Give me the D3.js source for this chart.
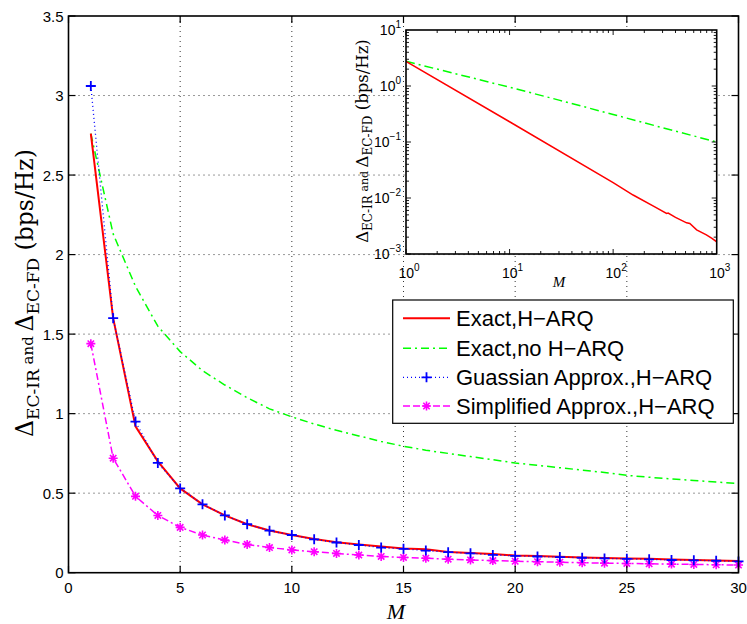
<!DOCTYPE html>
<html><head><meta charset="utf-8">
<script src="https://cdn.jsdelivr.net/npm/d3@7"></script>
<style>body{margin:0;background:#fff}svg{display:block}</style>
</head><body>
<script>
// ---------- data ----------
const M = [1,2,3,4,5,6,7,8,9,10,11,12,13,14,15,16,17,18,19,20,21,22,23,24,25,26,27,28,29,30];
const exactHarq = [2.76,1.60,0.92,0.70,0.53,0.43,0.36,0.305,0.265,0.237,0.212,0.192,0.178,0.165,0.152,0.148,0.130,0.124,0.117,0.108,0.105,0.101,0.096,0.093,0.090,0.087,0.083,0.080,0.077,0.073];
const exactNoHarq = [2.76,2.13,1.80,1.55,1.39,1.27,1.18,1.10,1.03,0.98,0.935,0.895,0.86,0.825,0.795,0.77,0.75,0.73,0.71,0.69,0.675,0.66,0.645,0.63,0.612,0.60,0.59,0.58,0.57,0.56];
const gaussApprox = [3.06,1.60,0.95,0.69,0.53,0.43,0.36,0.305,0.264,0.237,0.21,0.19,0.174,0.158,0.150,0.139,0.129,0.122,0.112,0.106,0.102,0.098,0.094,0.090,0.087,0.084,0.080,0.078,0.075,0.071];
const simpApprox = [1.44,0.72,0.48,0.36,0.285,0.237,0.205,0.178,0.158,0.143,0.132,0.121,0.111,0.102,0.096,0.091,0.085,0.080,0.076,0.072,0.069,0.066,0.063,0.060,0.058,0.056,0.054,0.052,0.050,0.048];
const xTicks = [0,5,10,15,20,25,30];
const yTicks = [0,0.5,1,1.5,2,2.5,3,3.5];
const yTickLabels = ["0","0.5","1","1.5","2","2.5","3","3.5"];

// inset (log-log)
const insetM1 = [1,10,100,156,250,328,340,400,512,550,640,795,900,1000];
const insetExact = [2.76,0.23,0.0188,0.0113,0.0070,0.0053,0.0054,0.0045,0.0036,0.0035,0.0027,0.0022,0.0019,0.00165];
const insetM2 = [1,10,30,100,300,1000];
const insetNoHarq = [2.76,0.95,0.56,0.31,0.18,0.10];
const insetXExp = [0,1,2,3];
const insetYExp = [-3,-2,-1,0,1];

const legendLabels = ["Exact,H\u2212ARQ","Exact,no H\u2212ARQ","Guassian Approx.,H\u2212ARQ","Simplified Approx.,H\u2212ARQ"];

// ---------- drawing ----------
const W=747,H=624;
const svg=d3.select("body").append("svg").attr("width",W).attr("height",H);
const sans="'Liberation Sans', Arial, Helvetica, sans-serif";
const serif="'DejaVu Serif','Liberation Serif',serif";
const serifI="'Liberation Serif','Times New Roman',serif";

const x=d3.scaleLinear().domain([0,30]).range([68.5,738.5]);
const y=d3.scaleLinear().domain([0,3.5]).range([572.7,16]);

// grid
const grid=svg.append("g").attr("stroke","#333").attr("stroke-width",1).attr("stroke-dasharray","1,4");
xTicks.filter(t=>t>0&&t<30).forEach(t=>grid.append("line").attr("x1",x(t)).attr("x2",x(t)).attr("y1",y(3.5)).attr("y2",y(0)));
yTicks.filter(t=>t>0&&t<3.5).forEach(t=>grid.append("line").attr("y1",y(t)).attr("y2",y(t)).attr("x1",x(0)).attr("x2",x(30)));

const line=(arr)=>d3.line().x((d,i)=>x(M[i])).y(d=>y(d))(arr);
svg.append("path").attr("d",line(exactNoHarq)).attr("fill","none").attr("stroke","#00ff00").attr("stroke-width",1.5).attr("stroke-dasharray","8,4,2,4");
svg.append("path").attr("d",line(simpApprox)).attr("fill","none").attr("stroke","#ff00ff").attr("stroke-width",1.5).attr("stroke-dasharray","7,3,2,3");
svg.append("path").attr("d",line(exactHarq)).attr("fill","none").attr("stroke","#ff0000").attr("stroke-width",2);
svg.append("path").attr("d",line(gaussApprox)).attr("fill","none").attr("stroke","#0000ff").attr("stroke-width",1.3).attr("stroke-dasharray","1,3");

const plusPath="M-5,0H5M0,-5V5";
const starPath="M-4.5,0H4.5M0,-4.5V4.5M-3.2,-3.2L3.2,3.2M-3.2,3.2L3.2,-3.2";
svg.append("g").selectAll("path").data(simpApprox).join("path")
  .attr("transform",(d,i)=>`translate(${x(M[i])},${y(d)})`).attr("d",starPath)
  .attr("stroke","#ff00ff").attr("stroke-width",1.6).attr("fill","none");
svg.append("g").selectAll("path").data(gaussApprox).join("path")
  .attr("transform",(d,i)=>`translate(${x(M[i])},${y(d)})`).attr("d",plusPath)
  .attr("stroke","#0000ff").attr("stroke-width",1.8).attr("fill","none");

// main axes box & ticks
const ax=svg.append("g").attr("stroke","#000").attr("stroke-width",1.2);
xTicks.forEach(t=>{
  ax.append("line").attr("x1",x(t)).attr("x2",x(t)).attr("y1",y(0)).attr("y2",y(0)-7);
  ax.append("line").attr("x1",x(t)).attr("x2",x(t)).attr("y1",y(3.5)).attr("y2",y(3.5)+7);
});
yTicks.forEach(t=>{
  ax.append("line").attr("y1",y(t)).attr("y2",y(t)).attr("x1",x(0)).attr("x2",x(0)+7);
  ax.append("line").attr("y1",y(t)).attr("y2",y(t)).attr("x1",x(30)).attr("x2",x(30)-7);
});
svg.append("rect").attr("x",x(0)).attr("y",y(3.5)).attr("width",x(30)-x(0)).attr("height",y(0)-y(3.5))
  .attr("fill","none").attr("stroke","#000").attr("stroke-width",1.6);

const tl=svg.append("g").style("font-family",sans).style("font-size","15px").attr("fill","#000");
xTicks.forEach(t=>tl.append("text").attr("x",x(t)).attr("y",y(0)+20).attr("text-anchor","middle").text(t));
yTicks.forEach((t,i)=>tl.append("text").attr("x",x(0)-5).attr("y",y(t)+5.5).attr("text-anchor","end").text(yTickLabels[i]));

// axis labels
svg.append("text").attr("x",396).attr("y",619).attr("text-anchor","middle")
  .style("font-family",serifI).style("font-style","italic").style("font-size","22px").text("M");

function deltaLabel(g, big, sub, small, shift){
  const t=g.append("text").attr("text-anchor","middle").style("font-family",serif).attr("fill","#000");
  t.append("tspan").style("font-size",big+"px").text("\u0394");
  t.append("tspan").style("font-size",sub+"px").attr("dy",shift).text("EC-IR");
  t.append("tspan").style("font-size",small+"px").attr("dy",-shift).text(" and ");
  t.append("tspan").style("font-size",big+"px").text("\u0394");
  t.append("tspan").style("font-size",sub+"px").attr("dy",shift).text("EC-FD");
  t.append("tspan").style("font-size",big+"px").attr("dy",-shift).text(" (bps/Hz)");
  return t;
}
deltaLabel(svg.append("g").attr("transform","translate(33,293) rotate(-90)"),23.5,17,15,6);

// ---------- inset ----------
const xi=d3.scaleLog().domain([1,1000]).range([406,716.7]);
const yi=d3.scaleLog().domain([1e-3,10]).range([254,30]);
svg.append("rect").attr("x",406).attr("y",30).attr("width",716.7-406).attr("height",224).attr("fill","#fff");
svg.append("clipPath").attr("id","ic").append("rect").attr("x",406).attr("y",30).attr("width",716.7-406).attr("height",224);
const ig=svg.append("g").attr("clip-path","url(#ic)");
ig.append("path").attr("d",d3.line().x((d,i)=>xi(insetM2[i])).y(d=>yi(d))(insetNoHarq))
  .attr("fill","none").attr("stroke","#00ff00").attr("stroke-width",1.5).attr("stroke-dasharray","9,4,2,4");
ig.append("path").attr("d",d3.line().x((d,i)=>xi(insetM1[i])).y(d=>yi(d))(insetExact))
  .attr("fill","none").attr("stroke","#ff0000").attr("stroke-width",1.5);

const iax=svg.append("g").attr("stroke","#000").attr("stroke-width",0.9);
for(let e=0;e<3;e++){for(let k=1;k<10;k++){const v=k*Math.pow(10,e);const L=k===1?5:3;
  iax.append("line").attr("x1",xi(v)).attr("x2",xi(v)).attr("y1",254).attr("y2",254-L);
  iax.append("line").attr("x1",xi(v)).attr("x2",xi(v)).attr("y1",30).attr("y2",30+L);}}
for(let e=-3;e<1;e++){for(let k=1;k<10;k++){const v=k*Math.pow(10,e);const L=k===1?5:3;
  iax.append("line").attr("y1",yi(v)).attr("y2",yi(v)).attr("x1",406).attr("x2",406+L);
  iax.append("line").attr("y1",yi(v)).attr("y2",yi(v)).attr("x1",716.7).attr("x2",716.7-L);}}
svg.append("rect").attr("x",406).attr("y",30).attr("width",716.7-406).attr("height",224)
  .attr("fill","none").attr("stroke","#000").attr("stroke-width",1.6);

const itl=svg.append("g").style("font-family",sans).attr("fill","#000");
insetXExp.forEach(e=>{const t=itl.append("text").attr("x",xi(Math.pow(10,e))+3).attr("y",278).attr("text-anchor","middle");
  t.append("tspan").style("font-size","14px").text("10");
  t.append("tspan").style("font-size","10px").attr("dy",-7).text(e);});
insetYExp.forEach(e=>{const t=itl.append("text").attr("x",401).attr("y",yi(Math.pow(10,e))+5).attr("text-anchor","end");
  t.append("tspan").style("font-size","14px").text("10");
  t.append("tspan").style("font-size","10px").attr("dy",-7).text(e<0?"\u2212"+(-e):e);});
svg.append("text").attr("x",559).attr("y",287).attr("text-anchor","middle")
  .style("font-family",serifI).style("font-style","italic").style("font-size","15px").text("M");
deltaLabel(svg.append("g").attr("transform","translate(368,141) rotate(-90)"),16.5,12,11,4);

// ---------- legend ----------
const lg=svg.append("g");
lg.append("rect").attr("x",392.7).attr("y",300).attr("width",340.6).attr("height",123.3).attr("fill","#fff").attr("stroke","#000").attr("stroke-width",1.2);
const ly=[318.3,348.3,377.3,406];
const styles=[{c:"#ff0000",d:null,w:2},{c:"#00ff00",d:"8,4,2,4",w:1.5},{c:"#0000ff",d:"1,3",w:1.3},{c:"#ff00ff",d:"7,3",w:1.5}];
legendLabels.forEach((lab,i)=>{
  const l=lg.append("line").attr("x1",403).attr("x2",450).attr("y1",ly[i]).attr("y2",ly[i]).attr("stroke",styles[i].c).attr("stroke-width",styles[i].w);
  if(styles[i].d) l.attr("stroke-dasharray",styles[i].d);
  if(i===2) lg.append("path").attr("d",plusPath).attr("transform",`translate(426.5,${ly[i]})`).attr("stroke","#0000ff").attr("stroke-width",1.8);
  if(i===3) lg.append("path").attr("d",starPath).attr("transform",`translate(426.5,${ly[i]})`).attr("stroke","#ff00ff").attr("stroke-width",1.6);
  lg.append("text").attr("x",456).attr("y",ly[i]+8).style("font-family",sans).style("font-size","22px").text(lab);
});
</script>
</body></html>
